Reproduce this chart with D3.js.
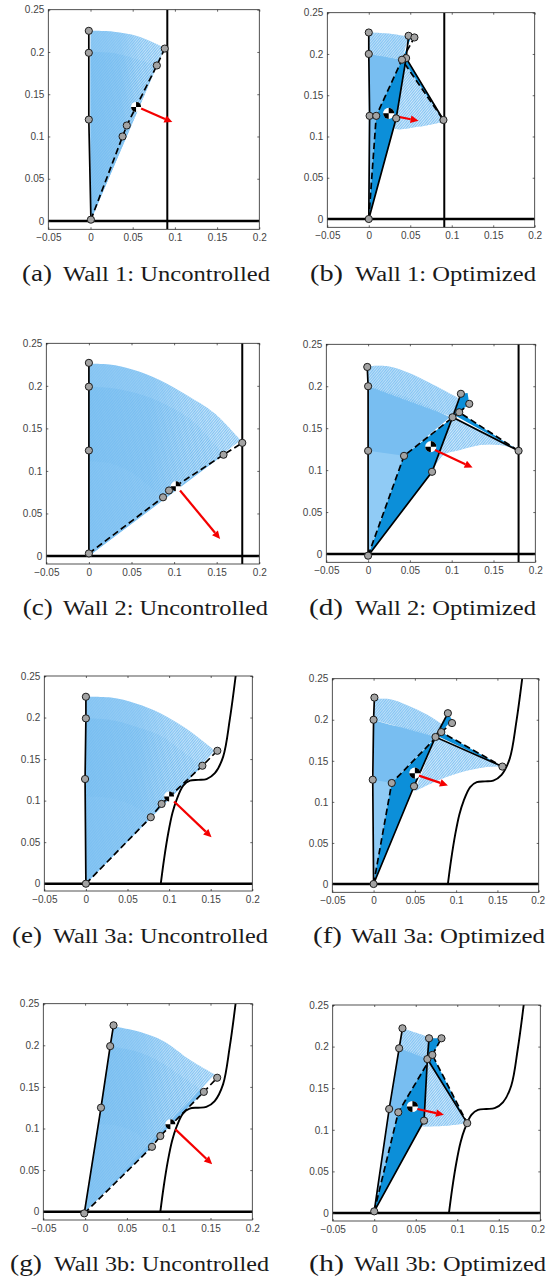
<!DOCTYPE html>
<html><head><meta charset="utf-8">
<script src="https://cdn.jsdelivr.net/npm/d3@7"></script>
<style>html,body{margin:0;padding:0;background:#fff}svg{display:block}</style>
</head><body><svg id="c" width="546" height="1281"></svg>
<script>
// ---- shared values
const xTicks=[-0.05,0,0.05,0.1,0.15,0.2];
const yTicks=[0,0.05,0.1,0.15,0.2,0.25];
const xDomain=[-0.05,0.2];
const yDomain=[-0.01,0.25];
const wallCurve=[[.09,0],[.094,.03],[.099,.061],[.104,.085],[.109,.101],[.117,.118],[.125,.124],[.135,.125],[.145,.126],[.155,.133],[.165,.153],[.173,.198],[.18,.25]];
const wall1=[[.091,-.01],[.091,.25]];
const wall2=[[.18,-.01],[.18,.25]];
// ---- a
const solidA=[[.0005,.0016],[-.002,.12],[-.002,.199],[-.002,.225]];
const dashA=[[.0005,.0016],[.038,.1],[.043,.113],[.0786,.184],[.088,.204]];
const nodesA=[[-.002,.225],[-.002,.199],[-.002,.12],[.0005,.0016],[.088,.204],[.0786,.184],[.043,.113],[.038,.1]];
const outerA=[[0,.225],[.0275,.224],[.055,.219],[.075,.211],[.088,.205],[0,0]];
const midA=[[0,.2],[.025,.199],[.05,.193],[.0786,.184],[0,0]];
const comA=[.054,.135], arrowA=[[.06,.133],[.097,.117]];
// ---- b
const solidB=[[0,0],[.001,.125],[0,.2],[0,.226]];
const bentB=[[0,0],[.033,.122],[.045,.195],[.09,.12]];
const bentTopB=[[.045,.195],[.048,.222]];
const dashB=[[0,0],[.009,.125],[.04,.193],[.09,.12]];
const dashTopB=[[.04,.193],[.055,.22]];
const nodesB=[[0,.226],[0,.2],[.001,.125],[0,0],[.033,.122],[.045,.195],[.09,.12],[.048,.222],[.009,.125],[.04,.193],[.055,.22]];
const outerB=[[0,.226],[.02,.225],[.048,.221],[.04,.193],[0,.2]];
const midB=[[0,.2],[.02,.197],[.04,.193],[.009,.125],[0,0]];
const hatchB=[[.045,.195],[.09,.118],[.061,.112],[.031,.11],[.033,.122]];
const darkB=[[[0,0],[.033,.122],[.045,.195],[.04,.193],[.009,.125]],[[.045,.195],[.048,.222],[.051,.22],[.04,.193]],[[.045,.195],[.09,.12],[.043,.19]]];
const comB=[.024,.128], arrowB=[[.03,.125],[.06,.119]];
// ---- c
const solidC=[[0,.003],[0,.124],[0,.199],[0,.227]];
const dashC=[[0,.003],[.087,.069],[.094,.077],[.158,.119],[.18,.133]];
const nodesC=[[0,.227],[0,.199],[0,.124],[0,.003],[.18,.133],[.158,.119],[.094,.077],[.087,.069]];
const outerC=[[0,.226],[.024,.225],[.052,.219],[.083,.207],[.115,.189],[.147,.168],[.178,.136],[0,0]];
const midC=[[0,.199],[.03,.197],[.06,.19],[.09,.178],[.12,.16],[.14,.14],[.158,.119],[0,0]];
const innerC=[[0,.111],[.025,.109],[.052,.097],[.076,.078],[.087,.07],[0,0]];
const comC=[.102,.082], arrowC=[[.107,.077],[.154,.02]];
// ---- d
const solidD=[[0,-.002],[0,.123],[0,.2],[-.001,.223]];
const bentD=[[0,-.002],[.0765,.098],[.101,.163],[.18,.123]];
const bentTopD=[[.101,.163],[.111,.191]];
const dashD=[[0,-.002],[.043,.117],[.109,.169],[.18,.123]];
const dashTopD=[[.109,.169],[.121,.179]];
const nodesD=[[-.001,.223],[0,.2],[0,.123],[0,-.002],[.0765,.098],[.101,.163],[.18,.123],[.111,.191],[.043,.117],[.109,.169],[.121,.179]];
const outerD=[[-.001,.224],[.022,.224],[.046,.217],[.074,.204],[.108,.186],[.101,.163],[0,.2]];
const midD=[[0,.2],[.022,.194],[.054,.184],[.098,.163],[.043,.117],[0,0]];
const innerD=[[0,.123],[.043,.117],[0,0]];
const hatchD=[[.101,.163],[.18,.125],[.157,.13],[.134,.13],[.11,.124],[.09,.118],[.0765,.098]];
const darkD=[[[0,-.002],[.0765,.098],[.101,.163],[.109,.169],[.043,.117]],[[.101,.163],[.111,.191],[.119,.192],[.121,.179],[.109,.169]],[[.104,.165],[.18,.123],[.112,.167]]];
const comD=[.075,.128], arrowD=[[.08,.124],[.125,.103]];
// ---- e
const solidE=[[0,0],[-.001,.126],[0,.199],[0,.225]];
const dashE=[[0,0],[.078,.08],[.091,.096],[.14,.142],[.158,.16]];
const nodesE=[[0,.225],[0,.199],[-.001,.126],[0,0],[.158,.16],[.14,.142],[.091,.096],[.078,.08]];
const outerE=[[0,.225],[.03,.224],[.06,.217],[.09,.205],[.12,.187],[.14,.172],[.155,.16],[0,0]];
const midE=[[0,.199],[.03,.197],[.06,.189],[.09,.178],[.115,.16],[.14,.142],[0,0]];
const innerE=[[0,.105],[.03,.103],[.055,.095],[.078,.08],[0,0]];
const comE=[.1,.105], arrowE=[[.106,.099],[.151,.056]];
// ---- f
const solidF=[[0,0],[-.001,.127],[0,.2],[.001,.227]];
const bentF=[[0,0],[.049,.119],[.075,.179],[.156,.143]];
const bentTopF=[[.075,.179],[.09,.208]];
const dashF=[[0,0],[.022,.123],[.082,.185],[.156,.143]];
const dashTopF=[[.082,.185],[.095,.196]];
const nodesF=[[.001,.227],[0,.2],[-.001,.127],[0,0],[.049,.119],[.075,.179],[.156,.143],[.09,.208],[.022,.123],[.082,.185],[.095,.196]];
const outerF=[[.001,.225],[.02,.225],[.04,.218],[.065,.206],[.085,.193],[.075,.179],[0,.2]];
const midF=[[0,.2],[.02,.194],[.05,.188],[.075,.179],[.022,.123],[0,0]];
const innerF=[[0,.127],[.022,.123],[0,0]];
const hatchF=[[.075,.179],[.156,.143],[.133,.142],[.109,.137],[.08,.127],[.05,.113]];
const darkF=[[[0,0],[.049,.119],[.075,.179],[.082,.185],[.022,.123]],[[.075,.179],[.09,.208],[.095,.2],[.082,.185]],[[.078,.18],[.156,.143],[.082,.185]]];
const comF=[.05,.135], arrowF=[[.055,.132],[.09,.12]];
// ---- g
const solidG=[[-.001,-.002],[.019,.125],[.03,.199],[.034,.224]];
const dashG=[[-.001,-.002],[.08,.078],[.09,.091],[.142,.144],[.158,.161]];
const nodesG=[[.034,.224],[.03,.199],[.019,.125],[-.001,-.002],[.158,.161],[.142,.144],[.09,.091],[.08,.078]];
const outerG=[[.034,.223],[.066,.216],[.094,.205],[.126,.182],[.155,.165],[0,0]];
const midG=[[.03,.199],[.06,.193],[.09,.18],[.115,.163],[.142,.144],[0,0]];
const innerG=[[.016,.105],[.04,.103],[.06,.095],[.08,.078],[0,0]];
const comG=[.102,.105], arrowG=[[.108,.099],[.152,.057]];
// ---- h
const solidH=[[0,.002],[.018,.125],[.03,.198],[.034,.222]];
const bentH=[[0,.002],[.06,.111],[.064,.185],[.112,.108]];
const bentTopH=[[.064,.185],[.066,.21]];
const dashH=[[0,.002],[.029,.121],[.07,.19],[.112,.108]];
const dashTopH=[[.07,.19],[.081,.21]];
const nodesH=[[.034,.222],[.03,.198],[.018,.125],[0,.002],[.06,.111],[.064,.185],[.112,.108],[.066,.21],[.029,.121],[.07,.19],[.081,.21]];
const outerH=[[.034,.222],[.055,.215],[.068,.21],[.064,.185],[.03,.198]];
const midH=[[.03,.198],[.064,.185],[.029,.121],[0,0],[.018,.125]];
const innerH=[[.018,.125],[.029,.121],[0,0]];
const hatchH=[[.064,.185],[.112,.108],[.087,.105],[.058,.104]];
const darkH=[[[0,.002],[.06,.111],[.064,.185],[.07,.19],[.029,.121]],[[.066,.21],[.081,.21],[.07,.19],[.064,.185]],[[.064,.185],[.112,.108],[.07,.19]]];
const comH=[.046,.128], arrowH=[[.052,.125],[.084,.118]];
// ---- captions
const tags=["(a)","(b)","(c)","(d)","(e)","(f)","(g)","(h)"];
const names=["Wall 1: Uncontrolled","Wall 1: Optimized","Wall 2: Uncontrolled","Wall 2: Optimized","Wall 3a: Uncontrolled","Wall 3a: Optimized","Wall 3b: Uncontrolled","Wall 3b: Optimized"];

const panels=[
 {box:[48.3,259.3,9.7,229.3,221],wall:wall1,solid:solidA,dash:[dashA],bent:[],nodes:nodesA,outer:outerA,mid:midA,com:comA,arrow:arrowA,cap:[22,52,63,270,281]},
 {box:[327.3,534.7,12.7,227.3,219],wall:wall1,solid:solidB,dash:[dashB,dashTopB],bent:[bentB,bentTopB],nodes:nodesB,outer:outerB,mid:midB,hatch:hatchB,dark:darkB,com:comB,arrow:arrowB,cap:[310,343,355,536,281]},
 {box:[46.3,259.3,343.3,564,556],wall:wall2,solid:solidC,dash:[dashC],bent:[],nodes:nodesC,outer:outerC,mid:midC,inner:innerC,com:comC,arrow:arrowC,cap:[22.7,52.7,63,268,615]},
 {box:[326.3,535.3,344.3,562.3,554],wall:wall2,solid:solidD,dash:[dashD,dashTopD],bent:[bentD,bentTopD],nodes:nodesD,outer:outerD,mid:midD,inner:innerD,hatch:hatchD,dark:darkD,com:comD,arrow:arrowD,cap:[309,343,355,536,615]},
 {box:[44.3,252.3,676,891,883.7],curve:true,solid:solidE,dash:[dashE],bent:[],nodes:nodesE,outer:outerE,mid:midE,inner:innerE,com:comE,arrow:arrowE,cap:[12,42,53,268,943]},
 {box:[332.3,538.7,678.7,892.3,884],curve:true,solid:solidF,dash:[dashF,dashTopF],bent:[bentF,bentTopF],nodes:nodesF,outer:outerF,mid:midF,inner:innerF,hatch:hatchF,dark:darkF,com:comF,arrow:arrowF,cap:[313,342,351,545,943]},
 {box:[43.3,252.3,1003.7,1220,1211.7],curve:true,solid:solidG,dash:[dashG],bent:[],nodes:nodesG,outer:outerG,mid:midG,inner:innerG,com:comG,arrow:arrowG,cap:[10,42,54,269,1271]},
 {box:[332.7,540.3,1005,1221,1213],curve:true,solid:solidH,dash:[dashH,dashTopH],bent:[bentH,bentTopH],nodes:nodesH,outer:outerH,mid:midH,inner:innerH,hatch:hatchH,dark:darkH,com:comH,arrow:arrowH,cap:[309,344,354,546,1271]}
];

const svg=d3.select("#c");
const defs=svg.append("defs");
const MID="#78bef1", LIGHT="#84c4f3", INNER="#7cc0f2", DARK="#0c8fd9", RED="#f40000";
const hatch=defs.append("pattern").attr("id","hatch").attr("width",2).attr("height",2)
  .attr("patternUnits","userSpaceOnUse").attr("patternTransform","rotate(40)");
hatch.append("rect").attr("width",1).attr("height",2).attr("fill","#fff").attr("fill-opacity",.62);
const grad=defs.append("linearGradient").attr("id","fade");
[[0,.12],[.4,.3],[.65,.75],[1,1]].forEach(s=>grad.append("stop").attr("offset",s[0]).attr("stop-color","#fff").attr("stop-opacity",s[1]));
const mask=defs.append("mask").attr("id","fadeMask").attr("maskContentUnits","objectBoundingBox").attr("x",0).attr("y",0).attr("width",1).attr("height",1);
mask.append("rect").attr("width",1).attr("height",1).attr("fill","url(#fade)");

panels.forEach((p,i)=>{
  const [l,r,t,b,zero]=p.box;
  const x=d3.scaleLinear().domain(xDomain).range([l,r]);
  const y=d3.scaleLinear().domain([0,yDomain[1]]).range([zero,t]);
  const g=svg.append("g");
  const clipId="clip"+i;
  defs.append("clipPath").attr("id",clipId).append("rect").attr("x",l).attr("y",t).attr("width",r-l).attr("height",b-t);
  const lin=d3.line().x(d=>x(d[0])).y(d=>y(d[1]));
  const smooth=d3.line().x(d=>x(d[0])).y(d=>y(d[1])).curve(d3.curveCatmullRom);
  const poly=pts=>lin(pts)+"Z";
  // first k points form a smooth sweep arc, the rest are straight corners
  const arcPoly=(pts,k)=>{
    const rest=pts.slice(k).map(d=>`L${x(d[0])},${y(d[1])}`).join("");
    return smooth(pts.slice(0,k))+rest+"Z";
  };
  const plot=g.append("g").attr("clip-path",`url(#${clipId})`);
  const opt=!!p.hatch;
  const outerK=opt?p.outer.length-2:p.outer.length-1;
  const midK=opt?p.mid.length-2:p.mid.length-1;
  const outerD_=arcPoly(p.outer,outerK), midD_=arcPoly(p.mid,midK);
  plot.append("path").attr("d",outerD_).attr("fill",LIGHT);
  plot.append("path").attr("d",midD_).attr("fill",MID);
  if(p.inner) plot.append("path").attr("d",opt?poly(p.inner):arcPoly(p.inner,p.inner.length-1)).attr("fill",opt?"#90cbf5":INNER);
  const ov=plot.append("path").attr("d",outerD_).attr("fill","url(#hatch)");
  if(!opt) ov.attr("mask","url(#fadeMask)"); else ov.attr("opacity",.75);
  if(opt){
    const hp=p.hatch, first=`M${x(hp[0][0])},${y(hp[0][1])}L`;
    const hd=first+smooth(hp.slice(1)).slice(1)+"Z";
    plot.append("path").attr("d",hd).attr("fill",LIGHT);
    plot.append("path").attr("d",hd).attr("fill","url(#hatch)");
  }
  (p.dark||[]).forEach(d=>plot.append("path").attr("d",poly(d)).attr("fill",DARK));
  // ground and wall
  plot.append("line").attr("x1",l).attr("x2",r).attr("y1",y(0)).attr("y2",y(0)).attr("stroke","#000").attr("stroke-width",2.4);
  if(p.curve){
    plot.append("path").attr("d",smooth(wallCurve)).attr("fill","none").attr("stroke","#000").attr("stroke-width",1.9);
  }else{
    plot.append("line").attr("x1",x(p.wall[0][0])).attr("x2",x(p.wall[0][0])).attr("y1",b).attr("y2",y(0.25)).attr("stroke","#000").attr("stroke-width",2);
  }
  // links
  plot.append("path").attr("d",lin(p.solid)).attr("fill","none").attr("stroke","#000").attr("stroke-width",1.7);
  p.bent.forEach(s=>plot.append("path").attr("d",lin(s)).attr("fill","none").attr("stroke","#000").attr("stroke-width",1.7));
  p.dash.forEach(s=>plot.append("path").attr("d",lin(s)).attr("fill","none").attr("stroke","#000").attr("stroke-width",1.7).attr("stroke-dasharray","6.5,3.5"));
  // centre of mass
  const cg=plot.append("g").attr("transform",`translate(${x(p.com[0])},${y(p.com[1])})`);
  const R=i%2?5.6:5;
  cg.append("circle").attr("r",R).attr("fill","#fff");
  const arc=d3.arc().innerRadius(0).outerRadius(R);
  cg.append("path").attr("d",arc({startAngle:0,endAngle:Math.PI/2})).attr("fill","#000");
  cg.append("path").attr("d",arc({startAngle:Math.PI,endAngle:1.5*Math.PI})).attr("fill","#000");
  // arrow
  const [a0,a1]=p.arrow;
  const x0=x(a0[0]),y0=y(a0[1]),x1=x(a1[0]),y1=y(a1[1]);
  const ang=Math.atan2(y1-y0,x1-x0),hl=8,hw=3.8;
  const bx=x1-hl*Math.cos(ang),by=y1-hl*Math.sin(ang);
  plot.append("line").attr("x1",x0).attr("y1",y0).attr("x2",bx).attr("y2",by).attr("stroke",RED).attr("stroke-width",2.2);
  plot.append("path").attr("d",`M${x1},${y1}L${bx-hw*Math.sin(ang)},${by+hw*Math.cos(ang)}L${bx+hw*Math.sin(ang)},${by-hw*Math.cos(ang)}Z`).attr("fill",RED);
  // box and axes
  const fmt=v=>d3.format("")(+v.toFixed(2));
  g.append("rect").attr("x",l).attr("y",t).attr("width",r-l).attr("height",b-t).attr("fill","none").attr("stroke","#262626").attr("stroke-width",0.8);
  const styleAxis=a=>{a.select(".domain").remove();a.selectAll("line").attr("stroke","#262626").attr("stroke-width",0.7);
    a.selectAll("text").attr("fill","#444").style("font","10px 'Liberation Sans',Arial,sans-serif");};
  const ax=g.append("g").attr("transform",`translate(0,${b})`).call(d3.axisBottom(x).tickValues(xTicks).tickSizeInner(-2).tickSizeOuter(0).tickPadding(5).tickFormat(fmt)).call(styleAxis);
  ax.selectAll("text").each(function(){const bb=this.getBBox();const tx=+d3.select(this.parentNode).attr("transform").match(/\(([\d.]+)/)[1];
    if(tx+bb.x+bb.width>545.5) d3.select(this).attr("dx",545.5-(tx+bb.x+bb.width));});
  g.append("g").attr("transform",`translate(0,${t})`).call(d3.axisTop(x).tickValues(xTicks).tickSizeInner(-2).tickSizeOuter(0).tickFormat("")).call(styleAxis);
  g.append("g").attr("transform",`translate(${l},0)`).call(d3.axisLeft(y).tickValues(yTicks).tickSizeInner(-2).tickSizeOuter(0).tickPadding(4).tickFormat(fmt)).call(styleAxis);
  g.append("g").attr("transform",`translate(${r},0)`).call(d3.axisRight(y).tickValues(yTicks).tickSizeInner(-2).tickSizeOuter(0).tickFormat("")).call(styleAxis);
  // nodes
  g.selectAll(".n").data(p.nodes).join("circle").attr("cx",d=>x(d[0])).attr("cy",d=>y(d[1])).attr("r",3.6)
    .attr("fill","#a3a3a3").attr("stroke","#1c1c1c").attr("stroke-width",1);
  // captions
  const [t0,t1,n0,n1,base]=p.cap;
  const serif="'Liberation Serif','DejaVu Serif',serif";
  g.append("text").attr("x",t0).attr("y",base).attr("textLength",t1-t0).attr("lengthAdjust","spacingAndGlyphs").attr("fill","#1a1a1a")
    .style("font",`23px ${serif}`).text(tags[i]);
  g.append("text").attr("x",n0).attr("y",base).attr("textLength",n1-n0).attr("lengthAdjust","spacingAndGlyphs").attr("fill","#1a1a1a")
    .style("font",`20.5px ${serif}`).text(names[i]);
});
</script></body></html>
